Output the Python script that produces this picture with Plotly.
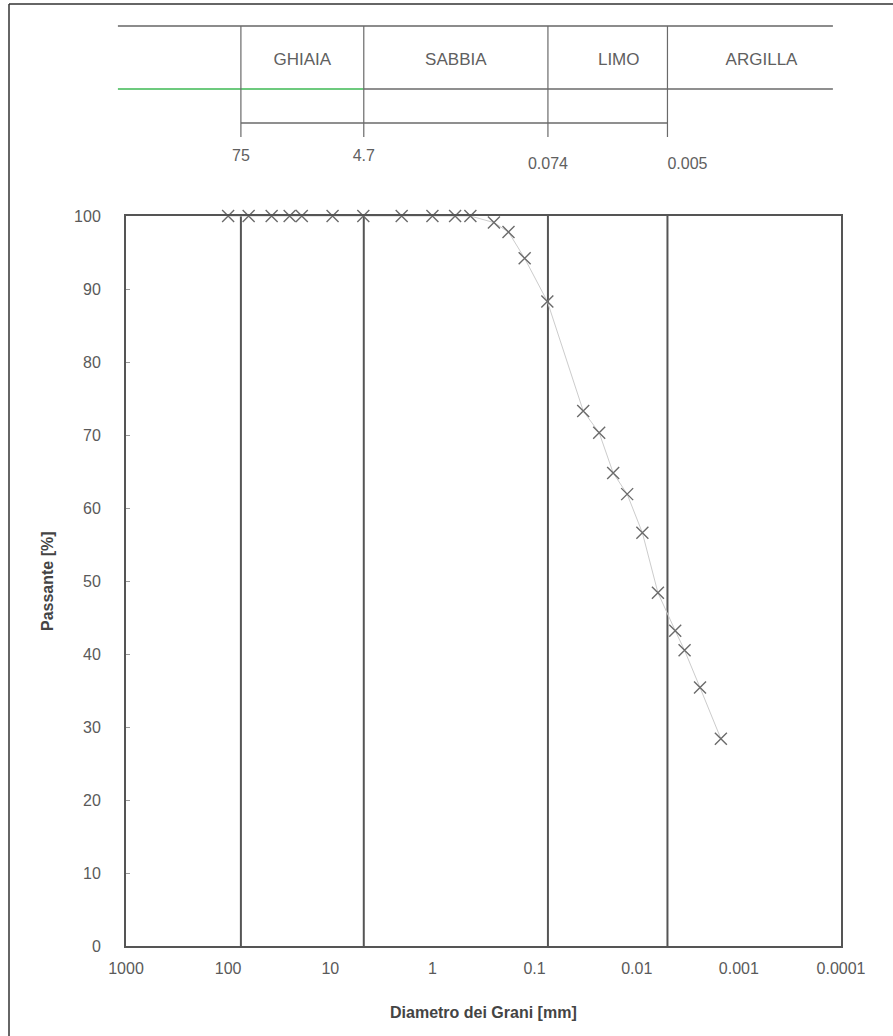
import plotly.graph_objects as go

# ---------------------------------------------------------------
# Granulometric analysis: sieve + sedimentation results
# ---------------------------------------------------------------
diametro_mm = [100, 63, 37.5, 25, 19, 9.5, 4.75, 2.0, 1.0, 0.6, 0.425,
               0.25, 0.18, 0.125, 0.075,
               0.0334, 0.0233, 0.0170, 0.0124, 0.0088, 0.0062,
               0.0042, 0.0034, 0.0024, 0.0015]
passante_pct = [100, 100, 100, 100, 100, 100, 100, 100, 100, 100, 100,
                99.1, 97.8, 94.2, 88.3,
                73.3, 70.3, 64.8, 61.9, 56.6, 48.4,
                43.2, 40.5, 35.4, 28.4]

# Class boundaries (mm) and classification labels
limiti_mm = [75, 4.7, 0.074, 0.005]
limiti_testo = ["75", "4.7", "0.074", "0.005"]
classi = ["GHIAIA", "SABBIA", "LIMO", "ARGILLA"]
classi_pos_mm = [18.8, 0.59, 0.015, 0.0006]

x_tick_vals = [1000, 100, 10, 1, 0.1, 0.01, 0.001, 0.0001]
x_tick_text = ["1000", "100", "10", "1", "0.1", "0.01", "0.001", "0.0001"]
y_tick_vals = [0, 10, 20, 30, 40, 50, 60, 70, 80, 90, 100]

# ---------------------------------------------------------------
# Page geometry (pixels)
# ---------------------------------------------------------------
W, H = 893, 1036
ML, MR, MT, MB = 100, 40, 20, 90
PLOT_L, PLOT_R, PLOT_T, PLOT_B = 126, 841, 216, 946
paper_w = W - ML - MR
paper_h = H - MT - MB


def px_x(p):
    return (p - ML) / paper_w


def px_y(p):
    return (H - MB - p) / paper_h


x_lo, x_hi = 3, -4  # log10 range, reversed (coarse on the left)
dec_per_px = (x_lo - x_hi) / (PLOT_R - PLOT_L)
table_range = [x_lo + (PLOT_L - ML) * dec_per_px,
               x_hi - (ML + paper_w - PLOT_R) * dec_per_px]

# Classification table rows (table axis counts down from the page top)
TAB_TOP, TAB_MID, TAB_BRACKET, TAB_TICK_END = 26, 89, 123, 137
TAB_CLASS_ROW = 61
TAB_LIMIT_ROWS = [157, 157, 165, 165]
tab_sx, tab_dx = 1200, 0.00012

LINE = "#555555"
TEXT = "#5a5a5a"
FONT = "Liberation Sans"

fig = go.Figure()

# ---- classification table above the chart ----
tab_kw = dict(xaxis="x2", yaxis="y2", mode="lines", hoverinfo="skip",
              showlegend=False)
fig.add_trace(go.Scatter(x=[tab_sx, tab_dx], y=[TAB_TOP, TAB_TOP],
                         line=dict(color="#666666", width=1.5), **tab_kw))
fig.add_trace(go.Scatter(x=[tab_sx, limiti_mm[1]], y=[TAB_MID, TAB_MID],
                         line=dict(color="#3cb853", width=1.6), **tab_kw))
fig.add_trace(go.Scatter(x=[limiti_mm[1], tab_dx], y=[TAB_MID, TAB_MID],
                         line=dict(color="#6a6a6a", width=1.5), **tab_kw))
fig.add_trace(go.Scatter(x=[limiti_mm[0], limiti_mm[-1]],
                         y=[TAB_BRACKET, TAB_BRACKET],
                         line=dict(color="#6a6a6a", width=1.3), **tab_kw))
for lim in limiti_mm:
    fig.add_trace(go.Scatter(x=[lim, lim], y=[TAB_TOP, TAB_TICK_END],
                             line=dict(color="#6a6a6a", width=1.2), **tab_kw))

fig.add_trace(go.Scatter(
    x=classi_pos_mm, y=[TAB_CLASS_ROW] * len(classi), text=classi,
    mode="text", textposition="middle center", xaxis="x2", yaxis="y2",
    textfont=dict(family=FONT, size=17, color="#606060"),
    hoverinfo="skip", showlegend=False))
fig.add_trace(go.Scatter(
    x=limiti_mm, y=TAB_LIMIT_ROWS, text=limiti_testo, mode="text",
    textposition=["middle center", "middle center", "middle center",
                  "middle right"],
    xaxis="x2", yaxis="y2",
    textfont=dict(family=FONT, size=16, color="#606060"),
    hoverinfo="skip", showlegend=False))

# ---- class boundaries inside the chart ----
for lim in limiti_mm:
    fig.add_trace(go.Scatter(x=[lim, lim], y=[0, 100], mode="lines",
                             line=dict(color=LINE, width=2),
                             hoverinfo="skip", showlegend=False))

# ---- grading curve ----
fig.add_trace(go.Scatter(
    x=diametro_mm, y=passante_pct, mode="lines+markers",
    line=dict(color="#cccccc", width=1),
    marker=dict(symbol="x-thin", size=12,
                line=dict(color="#6b6b6b", width=1.4)),
    cliponaxis=False, showlegend=False, name="Passante"))

fig.update_layout(
    width=W, height=H,
    margin=dict(l=ML, r=MR, t=MT, b=MB, autoexpand=False),
    paper_bgcolor="white", plot_bgcolor="white",
    font=dict(family=FONT, color=TEXT),
    showlegend=False,
    xaxis=dict(
        type="log", range=[x_lo, x_hi],
        domain=[px_x(PLOT_L), px_x(PLOT_R)],
        tickmode="array", tickvals=x_tick_vals, ticktext=x_tick_text,
        tickfont=dict(size=16, color=TEXT, family=FONT),
        ticks="", ticklabelstandoff=7,
        showline=True, mirror=True, linecolor=LINE, linewidth=2,
        showgrid=False, zeroline=False, automargin=False,
    ),
    yaxis=dict(
        range=[0, 100], domain=[px_y(PLOT_B), px_y(PLOT_T)],
        tickmode="array", tickvals=y_tick_vals,
        tickfont=dict(size=16, color=TEXT, family=FONT),
        ticks="inside", ticklen=4, tickcolor="#9a9a9a",
        ticklabelstandoff=20,
        showline=True, mirror=True, linecolor=LINE, linewidth=2,
        showgrid=False, zeroline=False, automargin=False,
    ),
    xaxis2=dict(
        type="log", range=table_range, domain=[0, 1], anchor="y2",
        visible=False, showgrid=False, zeroline=False,
    ),
    yaxis2=dict(
        range=[200, MT], domain=[px_y(200), px_y(MT)], anchor="x2",
        visible=False, showgrid=False, zeroline=False,
    ),
    annotations=[
        dict(text="<b>Diametro dei Grani [mm]</b>", xref="paper", yref="paper",
             x=(px_x(PLOT_L) + px_x(PLOT_R)) / 2, y=px_y(1012),
             xanchor="center", yanchor="middle", showarrow=False,
             font=dict(family=FONT, size=16, color="#444444")),
        dict(text="<b>Passante [%]</b>", xref="paper", yref="paper",
             x=px_x(47), y=px_y(581), textangle=-90,
             xanchor="center", yanchor="middle", showarrow=False,
             font=dict(family=FONT, size=16, color="#444444")),
    ],
    shapes=[
        # page frame
        dict(type="line", xref="paper", yref="paper",
             x0=px_x(9), x1=px_x(9), y0=px_y(4), y1=px_y(H),
             line=dict(color="#333333", width=1.5)),
        dict(type="line", xref="paper", yref="paper",
             x0=px_x(9), x1=px_x(W), y0=px_y(4), y1=px_y(4),
             line=dict(color="#333333", width=1.5)),
    ],
)

fig.write_html("out.html")
